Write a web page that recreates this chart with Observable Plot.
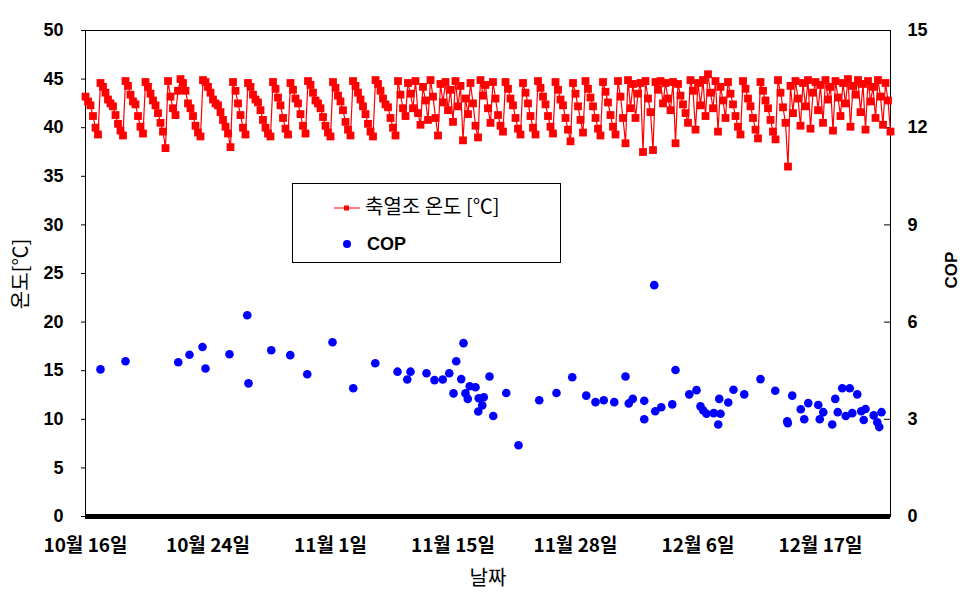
<!DOCTYPE html>
<html><head><meta charset="utf-8">
<script src="https://cdn.jsdelivr.net/npm/d3@7"></script>
<script src="https://cdn.jsdelivr.net/npm/@observablehq/plot@0.6"></script>
<style>body{margin:0;background:#fff} #chart{width:977px;height:600px}</style>
</head><body><div id="chart"></div>
<script>
// Category-axis tick labels (index of the category where each label sits)
const tickIndex = [0, 49, 98, 147, 196, 245, 294];
const tickLabels = ["10월 16일", "10월 24일", "11월 1일", "11월 15일", "11월 28일", "12월 6일", "12월 17일"];
const yTicks = [0, 5, 10, 15, 20, 25, 30, 35, 40, 45, 50];
const copTicks = [0, 3, 6, 9, 12, 15];

// 축열조 온도 [℃] — one value per category
const tempValues = [
43.2, 42.7, 42.3, 41.2, 40.0, 39.3,
44.6, 44.2, 43.6, 42.9, 42.5, 42.2, 41.3, 40.4, 39.7, 39.2,
44.8, 44.3, 43.4, 42.7, 42.4, 41.2, 40.1, 39.4,
44.7, 44.2, 43.5, 42.8, 42.3, 41.5, 40.5, 39.6, 37.9,
44.8, 43.2, 42.0, 41.3, 43.8,
45.0, 44.6, 43.8, 42.5, 42.0, 41.2, 40.2, 39.5, 39.1,
44.9, 44.7, 44.2, 43.6, 42.9, 42.5, 42.3, 41.6, 40.8, 40.1, 39.4, 38.0,
44.7, 43.8, 42.5, 41.3, 40.0, 39.3,
44.6, 44.2, 43.4, 42.9, 42.6, 41.8, 40.8, 40.0, 39.4, 39.1,
44.7, 44.0, 43.1, 42.3, 41.0, 39.9, 39.3,
44.6, 43.9, 43.0, 42.5, 41.4, 40.2, 39.4,
44.8, 44.4, 43.6, 42.8, 42.5, 42.0, 41.1, 40.2, 39.5, 39.1,
44.7, 44.1, 43.3, 42.7, 41.8, 40.6, 39.8, 39.2,
44.8, 44.3, 43.6, 42.9, 42.2, 41.4, 40.4, 39.6, 39.1,
44.9, 44.5, 43.8, 43.0, 42.4, 42.1, 41.0, 40.0, 39.2,
44.8, 43.4, 42.0,
41.2, 44.6, 43.5, 42.0, 44.8, 41.5, 40.3, 44.2, 42.8, 40.8,
44.9, 43.2, 41.0, 39.2, 44.5, 42.6, 44.7, 41.8, 43.9, 40.6,
44.8, 42.2, 44.3, 38.7, 43.0, 41.4, 44.6, 42.5, 40.2, 39.0,
44.9, 43.3, 44.4, 42.0, 40.5, 44.7, 43.0, 41.3, 40.2, 39.6,
44.7, 44.0, 43.0, 42.3, 41.0, 39.9, 39.3,
44.6, 43.6, 42.5, 41.2, 40.0, 39.3,
44.8, 44.1, 43.2, 42.4, 41.2, 40.1, 39.4,
44.7, 43.9, 42.9, 42.3, 41.0, 39.8, 38.6,
44.6, 43.5, 42.2, 40.8, 39.5,
44.8, 44.0, 43.1, 42.2, 41.0, 39.9, 39.2,
44.7, 43.7, 42.6, 41.3, 40.1, 39.3,
44.8, 43.2, 41.0, 38.4,
44.9, 42.0, 44.5, 41.0, 43.5, 44.6, 37.5, 44.8, 43.0, 41.6,
37.7, 44.7, 43.9, 44.8, 42.5, 44.6, 43.0, 41.8, 44.7, 38.4,
44.5, 43.3, 42.4, 41.5, 40.5, 44.9, 43.8, 39.8, 44.6, 42.3,
44.9, 41.2, 45.5, 43.6, 42.0, 44.8, 39.6, 44.2, 42.8, 41.0,
44.7, 43.5, 42.4, 41.2, 40.1, 39.3,
44.8, 44.0, 43.0, 42.2, 41.0, 39.8, 38.9,
44.7, 43.8, 42.8, 42.0, 40.8, 39.6, 38.8,
44.9, 43.6, 42.1, 40.5,
36.0, 44.3, 41.5, 44.8, 43.0, 40.2, 44.6, 42.2, 44.9, 39.9,
43.6, 44.7, 41.8, 44.4, 40.5, 44.9, 42.9, 44.2, 39.7, 44.8,
43.1, 41.2, 44.6, 42.5, 45.0, 40.1, 44.3, 43.4, 44.9, 41.6,
44.5, 39.8, 44.8, 42.7, 44.2, 41.0, 44.9, 43.2, 40.3, 44.6,
42.8, 39.6
];

// COP — category position and value
const copIndex = [
6.0, 16.0, 37.1, 41.6, 46.8, 48.0, 57.6, 64.7, 65.2, 74.3, 81.9, 88.7, 98.8, 107.1,
115.9, 124.8, 128.7, 130.0, 136.4, 139.6, 142.9, 145.5, 147.2, 148.3, 150.3, 151.2,
152.0, 152.9, 153.7, 156.0, 157.1, 157.3, 158.7, 159.3, 161.6, 163.1, 168.3, 173.2,
181.5, 188.4, 194.7, 200.3, 204.0, 207.3, 211.5, 216.0, 217.3, 218.9, 223.5, 223.5,
227.5, 227.9, 230.3, 234.7, 236.0, 241.5, 244.4, 246.0, 247.1, 248.4, 251.3, 253.1,
253.5, 254.0, 257.1, 259.2, 263.5, 270.0, 275.9, 280.7, 280.9, 282.7, 286.1, 287.5,
289.1, 293.1, 293.7, 295.1, 298.7, 299.9, 300.9, 302.7, 304.1, 305.7, 306.7, 308.7,
310.3, 311.3, 312.0, 315.3, 316.7, 317.5, 318.4
];
const copValues = [
4.54, 4.79, 4.76, 4.99, 5.23, 4.57, 5.01, 6.21, 4.11, 5.13, 4.98, 4.39, 5.38, 3.96,
4.73, 4.47, 4.23, 4.47, 4.42, 4.21, 4.23, 4.42, 3.80, 4.79, 4.24, 5.35,
3.80, 3.63, 4.02, 3.99, 3.24, 3.65, 3.43, 3.68, 4.32, 3.10, 3.81, 2.20,
3.59, 3.81, 4.30, 3.73, 3.53, 3.59, 3.53, 4.32, 3.49, 3.63, 3.57, 3.00,
7.14, 3.25, 3.37, 3.46, 4.52, 3.77, 3.90, 3.40, 3.27, 3.17, 3.19, 2.84,
3.63, 3.17, 3.52, 3.91, 3.77, 4.24, 3.88, 2.94, 2.88, 3.73, 3.31, 3.00,
3.50, 3.44, 3.00, 3.22, 2.84, 3.63, 3.22, 3.96, 3.10, 3.96, 3.19, 3.77,
3.25, 2.98, 3.32, 3.12, 2.91, 2.76, 3.22
];

const TEMP_MAX = 50, COP_MAX = 15;
const k = TEMP_MAX / COP_MAX;
const temp = tempValues.map((v, i) => ({i, v}));
const cop = copIndex.map((x, j) => ({i: x, c: copValues[j]}));

const W = 977, H = 600, ML = 85, MR = 87, MT = 30, MB = 84;
const num = "'Liberation Sans', Arial, sans-serif";
const kr = "'Noto Sans CJK KR', sans-serif";

const plot = Plot.plot({
  width: W, height: H, marginLeft: ML, marginRight: MR, marginTop: MT, marginBottom: MB,
  x: {domain: [0, 322]},
  y: {domain: [0, 50]},
  style: {fontFamily: num, background: "white", color: "black"},
  marks: [
    Plot.frame({stroke: "black", strokeWidth: 1}),
    Plot.axisY({ticks: yTicks, tickSize: 4, tickPadding: 18, fontSize: 18, fontWeight: "bold", label: null}),
    Plot.axisY({anchor: "right", ticks: copTicks.map(t => t * k), tickFormat: d => String(Math.round(d / k)),
      tickSize: 0, tickPadding: 17, fontSize: 18, fontWeight: "bold", label: null}),
    Plot.ruleY(copTicks.map(t => t * k), {insetLeft: W - ML - MR - 6, stroke: "black"}),
    Plot.axisX({ticks: tickIndex, tickFormat: d => tickLabels[tickIndex.indexOf(d)], tickSize: 0, tickPadding: 22,
      fontSize: 19, fontWeight: "bold", fontFamily: kr, label: null}),
    Plot.line(temp, {x: "i", y: "v", stroke: "#ff0000", strokeWidth: 1.2}),
    Plot.dot(temp, {x: "i", y: "v", symbol: "square", fill: "#ff0000", r: 4.4}),
    Plot.dot(cop, {x: "i", y: d => d.c * k, fill: "#0000ff", r: 4.3}),
    Plot.ruleY([0], {stroke: "black", strokeWidth: 5})
  ]
});
document.getElementById("chart").appendChild(plot);

const svg = d3.select(plot);
// axis titles
svg.append("text").attr("transform", "translate(23,274) rotate(-90)")
  .attr("text-anchor", "middle").attr("dominant-baseline", "middle")
  .style("font-family", kr).style("font-size", "20px").text("온도[℃]");
svg.append("text").attr("transform", "translate(953,270) rotate(-90)")
  .attr("text-anchor", "middle").attr("dominant-baseline", "middle")
  .style("font-family", num).style("font-size", "17px").style("font-weight", "bold").text("COP");
svg.append("text").attr("x", 488).attr("y", 580)
  .attr("text-anchor", "middle").attr("dominant-baseline", "middle")
  .style("font-family", kr).style("font-size", "20px").text("날짜");

// legend
const lg = svg.append("g").attr("text-anchor", "start");
lg.append("rect").attr("x", 292.5).attr("y", 183.5).attr("width", 268).attr("height", 79)
  .attr("fill", "white").attr("stroke", "black");
lg.append("line").attr("x1", 334).attr("x2", 360).attr("y1", 208).attr("y2", 208).attr("stroke", "#ff0000");
lg.append("rect").attr("x", 344).attr("y", 205.5).attr("width", 5).attr("height", 5).attr("fill", "#ff0000");
lg.append("text").attr("x", 365).attr("y", 209).attr("text-anchor", "start").attr("dominant-baseline", "middle")
  .style("font-family", kr).style("font-size", "20px").text("축열조 온도 [℃]");
lg.append("circle").attr("cx", 347).attr("cy", 244).attr("r", 4).attr("fill", "#0000ff");
lg.append("text").attr("x", 367).attr("y", 245).attr("text-anchor", "start").attr("dominant-baseline", "middle")
  .style("font-family", num).style("font-size", "18px").style("font-weight", "bold").text("COP");
</script>
</body></html>
